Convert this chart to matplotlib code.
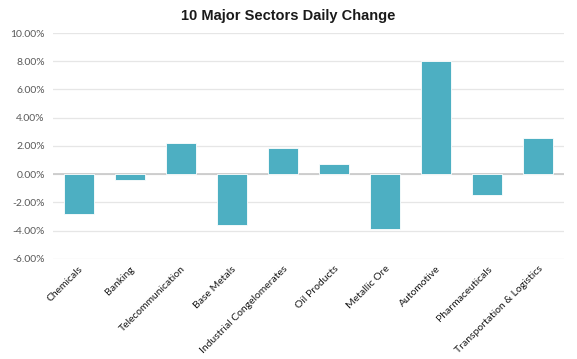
import matplotlib
matplotlib.use("Agg")
import matplotlib.pyplot as plt
from matplotlib.ticker import FuncFormatter, MultipleLocator

categories = ["Chemicals", "Banking", "Telecommunication", "Base Metals",
              "Industrial Congelomerates", "Oil Products", "Metallic Ore",
              "Automotive", "Pharmaceuticals", "Transportation & Logistics"]
changes = [-2.84, -0.38, 2.18, -3.59, 1.82, 0.69, -3.90, 8.00, -1.49, 2.53]

fig = plt.figure(figsize=(5.77, 3.59), dpi=100)
ax = fig.add_axes([0.092, 0.279, 0.885, 0.629])

x = range(len(categories))
ax.bar(x, changes, width=0.59, color="#4DAFC2", edgecolor="white", linewidth=0.6, zorder=3)

ax.set_xlim(-0.5, len(categories) - 0.5)
ax.set_ylim(-6, 10)
ax.yaxis.set_major_locator(MultipleLocator(2))
ax.yaxis.set_major_formatter(FuncFormatter(lambda v, p: f"{v:.2f}%"))
ax.grid(axis="y", color="#E6E6E6", linewidth=0.9, zorder=0)
ax.axhline(0, color="#C8C8C8", linewidth=1.2, zorder=2)
for s in ax.spines.values():
    s.set_visible(False)
ax.tick_params(axis="both", length=0)
ax.tick_params(axis="y", labelsize=7.5, labelcolor="#595959", pad=6)

ax.set_xticks(list(x))
ax.set_xticklabels(categories, rotation=45, ha="right", rotation_mode="anchor",
                   fontsize=7.5, color="#1a1a1a", family="Lato")
ax.tick_params(axis="x", pad=4)
for lbl in ax.get_yticklabels():
    lbl.set_family("Lato")

fig.text(0.5, 0.955, "10 Major Sectors Daily Change", ha="center", va="center",
         fontsize=10.5, fontweight="bold", family="Liberation Sans", color="#1a1a1a")

fig.savefig("out.png", dpi=100)
